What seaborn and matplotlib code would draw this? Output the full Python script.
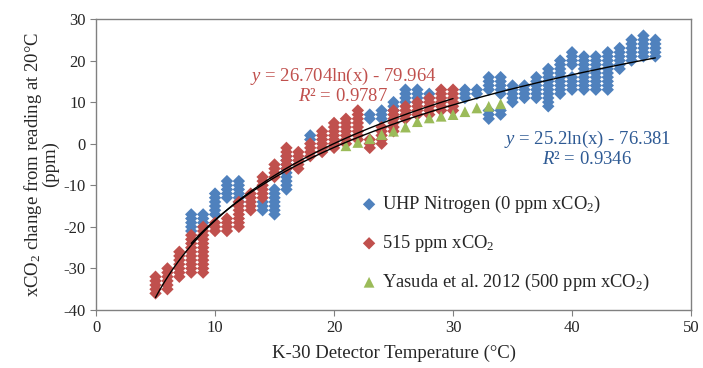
"""
K-30 CO2 sensor temperature response, UHP nitrogen vs 515 ppm vs Yasuda et al.
Saves out.png (703x368).
"""

import numpy as np
import pandas as pd
import matplotlib
matplotlib.use("Agg")
import matplotlib.pyplot as plt
import seaborn as sns

# UHP nitrogen (0 ppm) readings, stacked per detector temperature
uhp_temps = [8, 9, 10, 11, 12, 14, 15, 16, 18, 23, 24, 25, 26, 27, 28, 31, 32,
             33, 34, 35, 36, 37, 38, 39, 40, 41, 42, 43, 44, 45, 46, 47]
uhp_readings = [
    [-21, -20, -19, -18, -17],
    [-20, -19, -18, -17],
    [-17, -16, -15, -14, -13, -12],
    [-13, -12, -11, -10, -9],
    [-14, -13, -12, -11, -10, -9],
    [-16, -15, -14],
    [-17, -16, -15, -14, -13, -12, -11],
    [-11, -10, -9, -8, -7, -6, -5, -4, -3],
    [1, 2],
    [6, 7],
    [6, 7, 8],
    [8, 9, 10],
    [10, 11, 12, 13],
    [10, 11, 12, 13],
    [11, 12],
    [11, 12, 13],
    [12, 13],
    [6, 7, 8, 13, 14, 15, 16],
    [7, 8, 12, 13, 14, 15, 16],
    [10, 11, 12, 13, 14],
    [11, 12, 13, 14],
    [11, 12, 13, 14, 15, 16],
    [9, 10, 11, 12, 13, 14, 15, 16, 17, 18],
    [12, 13, 14, 15, 16, 17, 18, 19, 20],
    [13, 14, 15, 16, 19, 20, 21, 22],
    [13, 14, 15, 16, 17, 18, 19, 20, 21],
    [13, 14, 15, 16, 17, 18, 19, 20, 21],
    [13, 14, 15, 16, 17, 18, 19, 20, 21, 22],
    [18, 19, 20, 21, 22, 23],
    [20, 21, 22, 23, 24, 25],
    [21, 22, 23, 24, 25, 26],
    [21, 22, 23, 24, 25],
]

# 515 ppm xCO2 readings
ppm515_temps = [5, 6, 7, 8, 9, 10, 11, 12, 13, 14, 15, 16, 17, 18, 19, 20, 21,
                22, 23, 24, 25, 26, 27, 28, 29, 30]
ppm515_readings = [
    [-36, -35, -34, -33, -32],
    [-35, -34, -33, -32, -31, -30],
    [-32, -31, -30, -29, -28, -27, -26],
    [-31, -30, -29, -28, -27, -26, -25, -24, -23, -22],
    [-31, -30, -29, -28, -27, -26, -25, -24, -23, -22, -21, -20],
    [-21, -20, -19],
    [-21, -20, -19, -18],
    [-20, -19, -18, -17, -16, -15, -14],
    [-16, -15, -14, -13, -12],
    [-13, -12, -11, -10, -9, -8],
    [-8, -7, -6, -5],
    [-6, -5, -4, -3, -2, -1],
    [-6, -5, -4, -3, -2],
    [-3, -2, -1, 0],
    [-2, -1, 0, 1, 2, 3],
    [-1, 0, 1, 2, 3, 4, 5],
    [0, 1, 2, 3, 4, 5, 6],
    [1, 2, 3, 4, 5, 6, 7, 8],
    [-1, 0, 1],
    [0, 1, 2, 3, 4],
    [3, 4, 5, 6, 7, 8],
    [6, 7, 8, 9],
    [7, 8, 9, 10],
    [7, 8, 9, 10, 11],
    [8, 9, 10, 11, 12, 13],
    [8, 9, 10, 11, 12, 13],
]

# Yasuda et al. 2012 (500 ppm)
yasuda_temps = [21, 22, 23, 24, 25, 26, 27, 28, 29, 30, 31, 32, 33, 34]
yasuda_values = [-0.5, 0.3, 1.2, 2.2, 3.0, 4.0, 5.3, 6.2, 6.6, 7.0, 7.7, 8.6, 9.0, 9.6]

# log trendline coefficients printed on the chart
fit_515 = (26.704, -79.964)
fit_uhp = (25.2, -76.381)

BLUE = "#4F81BD"
RED = "#C0504D"
GREEN = "#9BBB59"


def stacks_to_frame(temps, readings):
    rows = []
    for t, vals in zip(temps, readings):
        for v in vals:
            rows.append({"temp": t, "change": v})
    return pd.DataFrame(rows)


def trend_frame(coef, t0, t1):
    x = np.linspace(t0, t1, 200)
    return pd.DataFrame({"temp": x, "change": coef[0] * np.log(x) + coef[1]})


def main():
    sns.set_style("ticks")
    plt.rcParams["font.family"] = ["Liberation Serif", "DejaVu Serif"]
    plt.rcParams["mathtext.fontset"] = "custom"
    plt.rcParams["mathtext.rm"] = "Liberation Serif"
    plt.rcParams["mathtext.it"] = "Liberation Serif:italic"
    plt.rcParams["axes.unicode_minus"] = False

    uhp_df = stacks_to_frame(uhp_temps, uhp_readings)
    red_df = stacks_to_frame(ppm515_temps, ppm515_readings)
    yas_df = pd.DataFrame({"temp": yasuda_temps, "change": yasuda_values})

    fig = plt.figure(figsize=(7.03, 3.68), dpi=100)
    ax = fig.add_axes([0.1366, 0.1576, 0.8464, 0.7908])

    sns.scatterplot(data=uhp_df, x="temp", y="change", marker="D", s=40,
                    color=BLUE, edgecolor="none", ax=ax,
                    label=r"UHP Nitrogen (0 ppm xCO$\mathregular{_2}$)")
    sns.scatterplot(data=red_df, x="temp", y="change", marker="D", s=40,
                    color=RED, edgecolor="none", ax=ax,
                    label=r"515 ppm xCO$\mathregular{_2}$")
    sns.scatterplot(data=yas_df, x="temp", y="change", marker="^", s=60,
                    color=GREEN, edgecolor="none", ax=ax,
                    label=r"Yasuda et al. 2012 (500 ppm xCO$\mathregular{_2}$)")

    sns.lineplot(data=trend_frame(fit_515, 5, 30), x="temp", y="change",
                 color="black", lw=1.0, ax=ax, legend=False)
    sns.lineplot(data=trend_frame(fit_uhp, 8, 47), x="temp", y="change",
                 color="black", lw=1.0, ax=ax, legend=False)

    ax.set_xlim(0, 50)
    ax.set_ylim(-40, 30)
    ax.set_xticks(range(0, 51, 10))
    ax.set_yticks(range(-40, 31, 10))
    ax.tick_params(labelsize=12, length=4, color="#808080", direction="out")
    for sp in ax.spines.values():
        sp.set_visible(True)
        sp.set_color("#808080")
        sp.set_linewidth(1.0)

    ax.set_xlabel("K-30 Detector Temperature (°C)", fontsize=13.5, labelpad=6)
    ax.set_ylabel("xCO$\\mathregular{_2}$ change from reading at 20°C\n(ppm)",
                  fontsize=13.5, linespacing=0.85, labelpad=3)

    # trendline equations
    ax.text(20.8, 16.3, r"$\mathit{y}$ = 26.704ln(x) - 79.964", color=RED,
            fontsize=13.5, ha="center", va="center")
    ax.text(20.8, 11.4, r"$\mathit{R}$² = 0.9787", color=RED,
            fontsize=13.5, ha="center", va="center")
    ax.text(41.3, 1.0, r"$\mathit{y}$ = 25.2ln(x) - 76.381", color="#2E5A94",
            fontsize=13.5, ha="center", va="center")
    ax.text(41.3, -3.9, r"$\mathit{R}$² = 0.9346", color="#2E5A94",
            fontsize=13.5, ha="center", va="center")

    ax.legend(loc="center left", bbox_to_anchor=(0.448, 0.228), frameon=False,
              fontsize=13.3, labelspacing=0.97, handlelength=0.7,
              handletextpad=0.35, borderpad=0, borderaxespad=0)

    fig.savefig("out.png", dpi=100)
    plt.close(fig)


if __name__ == "__main__":
    main()
